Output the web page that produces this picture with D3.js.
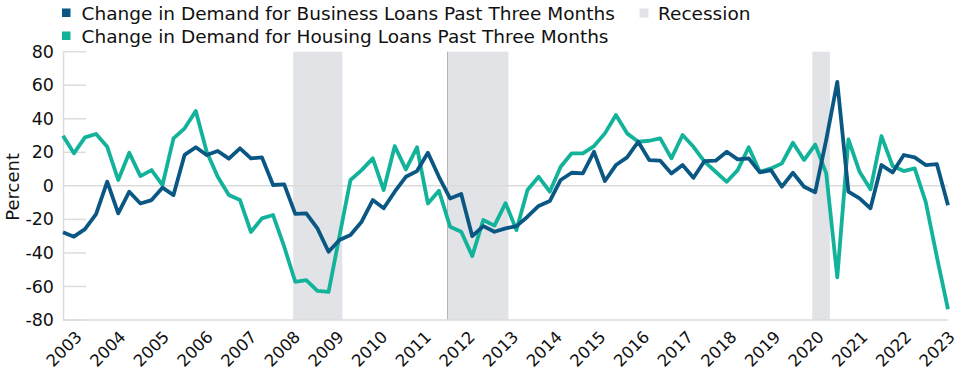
<!DOCTYPE html>
<html>
<head>
<meta charset="utf-8">
<script src="https://cdn.jsdelivr.net/npm/d3@7"></script>
<style>
  body { margin: 0; background: #fff; }
  svg text { font-family: "DejaVu Sans", sans-serif; fill: #111; }
</style>
</head>
<body>
<div id="chart"></div>
<script>
// Quarterly survey dates, Jan 2003 .. Jan 2023
const dates = d3.timeMonth.every(3).range(new Date(2003, 0, 1), new Date(2023, 0, 2));

// Net percentages
const businessLoans = [
  -27.7, -30.3, -25.8, -16.8, 2.5, -16.4, -3.5, -10.5, -8.5, -1.1,
  -5.5, 18.5, 23, 18.4, 20.8, 16.2, 22.4, 16.4, 17, 0.5,
  0.9, -16.7, -16.4, -25.4, -39.3, -32.3, -29.3, -21.4, -8.5, -13.4,
  -3.5, 5.4, 8.8, 19.7, 5.4, -7.5, -4.9, -30, -24, -27.4,
  -25.4, -24, -18.4, -12, -9.1, 3.5, 7.8, 7.4, 20.3, 2.9,
  12.4, 17, 26.3, 15.4, 15, 7.4, 12.4, 4.8, 14.8, 15,
  20.3, 15.8, 16.4, 8, 9.4, -0.5, 7.8, -0.5, -3.8, 27.5,
  62, -3.5, -7.5, -13.4, 12.4, 8, 18.4, 17, 12.4, 13, -11.5
];
const housingLoans = [
  29.9, 19.4, 28.9, 30.9, 23.3, 3.5, 19.7, 5.8, 9.4, 0.5,
  28.3, 34.3, 44.6, 20.3, 5.4, -5.5, -8.5, -27.5, -19.4, -17.4,
  -36.3, -57.2, -56.2, -62.6, -63.2, -30, 3.5, 9.4, 16.4, -2.5,
  23.7, 9.8, 23, -10.5, -2.9, -24.4, -27.4, -41.9, -20.4, -23.7,
  -10.3, -26.4, -2.5, 5.4, -3.5, 11.4, 19.4, 19.4, 23.7, 31.3,
  42.2, 31.3, 26.3, 26.9, 28.3, 16.4, 30.3, 23.3, 14.4, 8.4,
  2.4, 9.4, 23, 8.4, 10.4, 13.4, 25.7, 15.4, 24.6, 7.4,
  -54.6, 27.7, 8.4, -2.1, 29.7, 11.8, 8.8, 10.4, -9.5, -42.3, -73.6
];

// Recession periods
const recessions = [
  ['2008-03-15', '2009-04-25'],
  ['2011-09-10', '2013-01-24'],
  ['2019-12-08', '2020-05-01']
];

const yTicks = [80, 60, 40, 20, 0, -20, -40, -60, -80];
const yearLabels = d3.range(2003, 2024);

const legendItems = [
  { label: 'Change in Demand for Business Loans Past Three Months', color: '#0a5784' },
  { label: 'Change in Demand for Housing Loans Past Three Months', color: '#13b29b' }
];

const width = 960, height = 373;
const plot = { left: 63, right: 948, top: 51.7, bottom: 320 };

const svg = d3.select('#chart').append('svg')
  .attr('width', width)
  .attr('height', height);

const parse = d3.timeParse('%Y-%m-%d');

const x = d3.scaleTime()
  .domain([dates[0], dates[dates.length - 1]])
  .range([plot.left, plot.right]);

const y = d3.scaleLinear()
  .domain([-80, 80])
  .range([plot.bottom, plot.top]);

// year labels sit a little off the quarter grid in the original
const xLabel = d3.scaleLinear()
  .domain([2003, 2023])
  .range([83, 956]);

// recession shading
svg.selectAll('.recession')
  .data(recessions)
  .enter()
  .append('rect')
  .attr('class', 'recession')
  .attr('x', d => x(parse(d[0])))
  .attr('width', d => x(parse(d[1])) - x(parse(d[0])))
  .attr('y', plot.top)
  .attr('height', plot.bottom - plot.top)
  .attr('fill', '#e2e3e7');

// thin edge on the second band
svg.append('line')
  .attr('x1', x(parse(recessions[1][0]))).attr('x2', x(parse(recessions[1][0])))
  .attr('y1', plot.top).attr('y2', plot.bottom)
  .attr('stroke', '#b4b4b8').attr('stroke-width', 1);

// short grid stubs, zero line runs across
svg.selectAll('.grid')
  .data(yTicks)
  .enter()
  .append('line')
  .attr('class', 'grid')
  .attr('x1', plot.left)
  .attr('x2', d => d === 0 ? plot.right : plot.left + 23)
  .attr('y1', d => y(d))
  .attr('y2', d => y(d))
  .attr('stroke', '#dcdcdc')
  .attr('stroke-width', 1.5);

// y axis, plain hyphen for negatives like the original
const yAxis = svg.append('g')
  .attr('transform', `translate(${plot.left},0)`)
  .call(d3.axisLeft(y).tickValues(yTicks).tickSize(0).tickPadding(9).tickFormat(d => String(d)));
yAxis.select('.domain').attr('stroke', '#dcdcdc').attr('stroke-width', 1.5);
yAxis.selectAll('text')
  .style('font-family', '"DejaVu Sans", sans-serif')
  .style('font-size', '17.5px')
  .attr('fill', '#111');

// x axis line
svg.append('line')
  .attr('x1', plot.left).attr('x2', plot.right)
  .attr('y1', plot.bottom).attr('y2', plot.bottom)
  .attr('stroke', '#dcdcdc').attr('stroke-width', 1.5);

// rotated year labels
svg.selectAll('.year')
  .data(yearLabels)
  .enter()
  .append('text')
  .attr('class', 'year')
  .attr('transform', d => `translate(${xLabel(d)},338) rotate(-45)`)
  .attr('text-anchor', 'end')
  .style('font-size', '16.5px')
  .text(d => d);

// axis title
svg.append('text')
  .attr('transform', `translate(19,${(plot.top + plot.bottom) / 2 + 1}) rotate(-90)`)
  .attr('text-anchor', 'middle')
  .style('font-size', '18px')
  .text('Percent');

// lines
const line = d3.line()
  .x((d, i) => x(dates[i]))
  .y(d => y(d));

svg.append('path')
  .datum(housingLoans)
  .attr('fill', 'none')
  .attr('stroke', legendItems[1].color)
  .attr('stroke-width', 3.8)
  .attr('stroke-linejoin', 'round')
  .attr('d', line);

svg.append('path')
  .datum(businessLoans)
  .attr('fill', 'none')
  .attr('stroke', legendItems[0].color)
  .attr('stroke-width', 3.8)
  .attr('stroke-linejoin', 'round')
  .attr('d', line);

// legend
const legend = svg.selectAll('.legend')
  .data(legendItems)
  .enter()
  .append('g')
  .attr('class', 'legend')
  .attr('transform', (d, i) => `translate(62,${8.5 + i * 23})`);

legend.append('rect')
  .attr('width', 8.5)
  .attr('height', 8.5)
  .attr('fill', d => d.color);

legend.append('text')
  .attr('x', 19.5)
  .attr('y', 11)
  .style('font-size', '18.5px')
  .text(d => d.label);

const recLegend = svg.append('g')
  .attr('transform', 'translate(639.5,8.5)');
recLegend.append('rect')
  .attr('width', 9)
  .attr('height', 9)
  .attr('fill', '#e2e3e7');
recLegend.append('text')
  .attr('x', 18.5)
  .attr('y', 11)
  .style('font-size', '18.5px')
  .text('Recession');
</script>
</body>
</html>
